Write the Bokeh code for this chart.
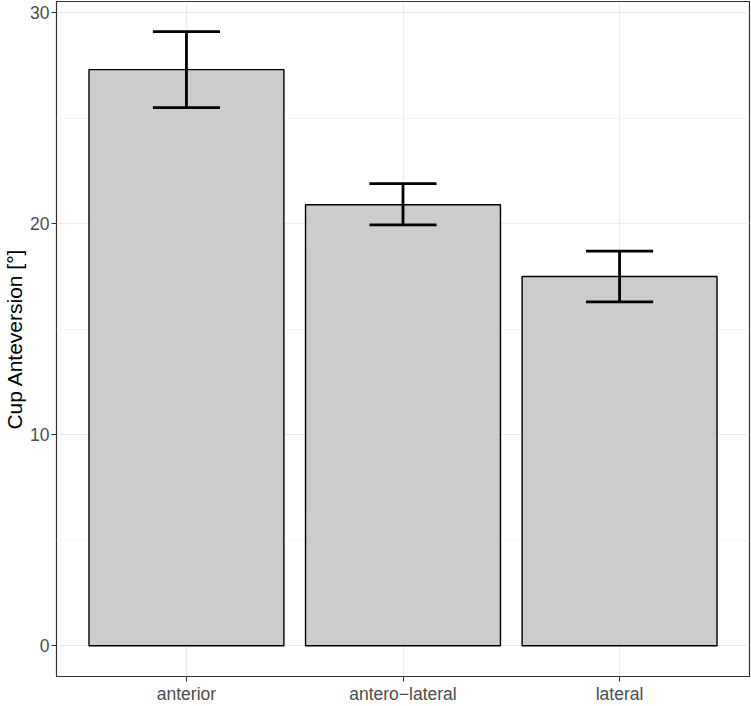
from bokeh.plotting import figure
from bokeh.models import ColumnDataSource, FactorRange, Range1d, FixedTicker
from bokeh.transform import dodge
from bokeh.embed import file_html
from bokeh.resources import INLINE

categories = ["anterior", "antero\u2212lateral", "lateral"]
means = [27.3, 20.9, 17.5]
lower = [25.5, 19.95, 16.3]
upper = [29.1, 21.9, 18.7]
y_ticks = [0, 10, 20, 30]

src = ColumnDataSource(dict(cat=categories, mean=means, lo=lower, hi=upper))

p = figure(width=751, height=706, output_backend="svg", toolbar_location=None,
           x_range=FactorRange(factors=categories, range_padding=0.1, range_padding_units="absolute"),
           y_range=Range1d(-1.454, 30.53),
           min_border_left=50, min_border_right=2, min_border_top=1, min_border_bottom=27)

p.vbar(x="cat", top="mean", bottom=0, width=0.9, source=src,
       fill_color="#cccccc", line_color="black", line_width=1.4)

p.segment(x0="cat", x1="cat", y0="lo", y1="hi", source=src, line_color="black", line_width=2.8)
p.segment(x0=dodge("cat", -0.155, range=p.x_range), x1=dodge("cat", 0.155, range=p.x_range),
          y0="lo", y1="lo", source=src, line_color="black", line_width=2.8)
p.segment(x0=dodge("cat", -0.155, range=p.x_range), x1=dodge("cat", 0.155, range=p.x_range),
          y0="hi", y1="hi", source=src, line_color="black", line_width=2.8)

p.outline_line_color = "#333333"
p.outline_line_width = 1.2
p.background_fill_color = "white"
p.border_fill_color = "white"

p.yaxis.ticker = FixedTicker(ticks=y_ticks, minor_ticks=[5, 15, 25])
p.yaxis.axis_label = "Cup Anteversion [°]"
p.yaxis.axis_label_text_font = "Liberation Sans"
p.yaxis.axis_label_text_font_style = "normal"
p.yaxis.axis_label_text_font_size = "21px"
p.yaxis.axis_label_text_color = "black"
p.yaxis.axis_label_standoff = 1

for ax in (p.xaxis, p.yaxis):
    ax.axis_line_color = None
    ax.major_tick_line_color = "#333333"
    ax.major_tick_line_width = 1.1
    ax.major_tick_out = 5
    ax.major_tick_in = 0
    ax.minor_tick_line_color = None
    ax.major_label_text_font = "Liberation Sans"
    ax.major_label_text_font_size = "17.5px"
    ax.major_label_text_color = "#4d4d4d"
    ax.major_label_standoff = 2

p.xgrid.grid_line_color = "#ebebeb"
p.xgrid.grid_line_width = 1.1
p.ygrid.grid_line_color = "#ebebeb"
p.ygrid.grid_line_width = 1.1
p.ygrid.minor_grid_line_color = "#f2f2f2"
p.ygrid.minor_grid_line_width = 0.8

open("out.html", "w").write(file_html(p, INLINE))
